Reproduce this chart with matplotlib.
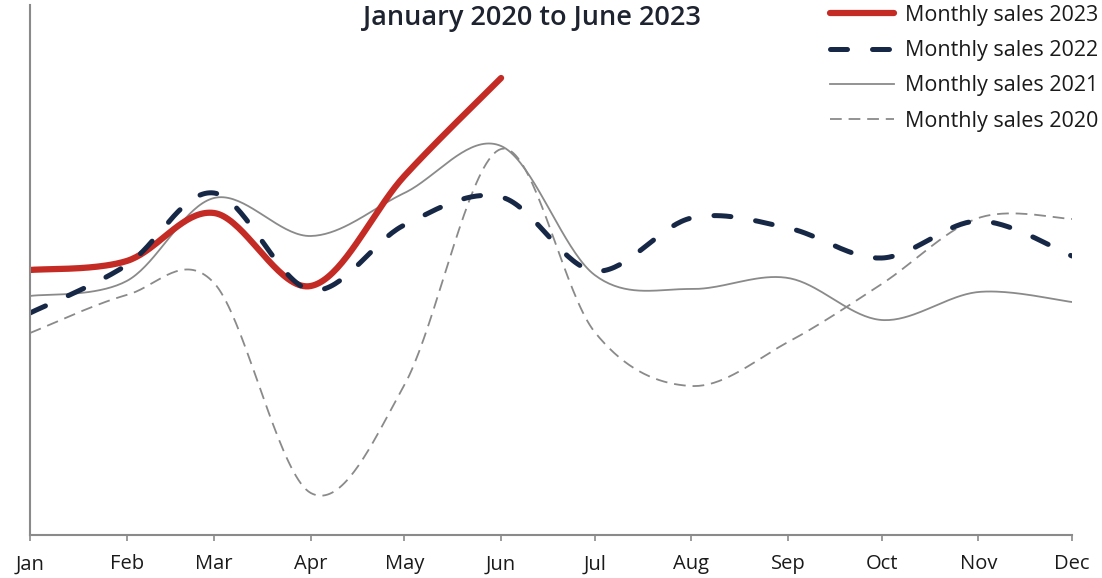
import numpy as np
import pandas as pd
import matplotlib
matplotlib.use("Agg")
import matplotlib.pyplot as plt
import matplotlib.dates as mdates

plt.rcParams['font.family'] = ['Open Sans', 'DejaVu Sans']

months = pd.date_range('2023-01-01', periods=12, freq='MS')
month_labels = ['Jan', 'Feb', 'Mar', 'Apr', 'May', 'Jun',
                'Jul', 'Aug', 'Sep', 'Oct', 'Nov', 'Dec']

# monthly sales index (no scale shown on the chart)
sales_2023 = [265, 274, 322, 249, 359, 457]
sales_2022 = [222, 270, 342, 245, 310, 338, 264, 317, 307, 277, 314, 279]
sales_2021 = [239, 254, 337, 299, 342, 389, 260, 246, 257, 215, 243, 233]
sales_2020 = [202, 240, 252, 42, 150, 386, 203, 149, 193, 251, 317, 316]


def smooth(xs, ys, n=40):
    # excel-like smoothed line: catmull-rom bezier through the points
    x = mdates.date2num(xs)
    y = np.asarray(ys, dtype=float)
    P = np.column_stack([x, y])
    P = np.vstack([P[0], P, P[-1]])
    out = []
    t = np.linspace(0, 1, n)[:, None]
    for i in range(1, len(P) - 2):
        p0, p1, p2, p3 = P[i - 1], P[i], P[i + 1], P[i + 2]
        c1 = p1 + (p2 - p0) / 6
        c2 = p2 - (p3 - p1) / 6
        seg = ((1 - t) ** 3) * p1 + 3 * ((1 - t) ** 2) * t * c1 \
            + 3 * (1 - t) * t ** 2 * c2 + t ** 3 * p2
        out.append(seg if i == 1 else seg[1:])
    out = np.vstack(out)
    return mdates.num2date(out[:, 0]), out[:, 1]


fig = plt.figure(figsize=(11.02, 5.78), dpi=100)
ax = fig.add_axes([30 / 1102, 43 / 578, 1042 / 1102, 530 / 578])

gray = '#8a8a8a'
red = '#c42b24'
navy = '#172847'

x, y = smooth(months, sales_2020)
l20, = ax.plot(x, y, color=gray, lw=1.3, dashes=(6.5, 3.8), label='Monthly sales 2020')
x, y = smooth(months, sales_2021)
l21, = ax.plot(x, y, color=gray, lw=1.3, label='Monthly sales 2021')
x, y = smooth(months[:6], sales_2023)
l23, = ax.plot(x, y, color=red, lw=4.5, solid_capstyle='round', label='Monthly sales 2023')
x, y = smooth(months, sales_2022)
l22, = ax.plot(x, y, color=navy, lw=3.6, dashes=(3.4, 5), dash_capstyle='round',
               label='Monthly sales 2022')

ax.set_xlim(months[0], months[-1])
ax.set_ylim(0, 530)
ax.set_xticks(months)
ax.set_xticklabels(month_labels)
ax.tick_params(axis='x', length=4, width=1.2, color=gray, labelsize=14.5,
               labelcolor='#1a1a1a', pad=10)
ax.set_yticks([])
for s in ['top', 'right']:
    ax.spines[s].set_visible(False)
for s in ['left', 'bottom']:
    ax.spines[s].set_color(gray)
    ax.spines[s].set_linewidth(1.5)

fig.text(532 / 1102, 1 - 18 / 578, 'January 2020 to June 2023', ha='center', va='center',
         fontsize=19.5, fontweight='semibold', color='#1e2330')

fig.legend(handles=[l23, l22, l21, l20], loc='upper right',
           bbox_to_anchor=(1 - 4 / 1102, 1 - 5 / 578),
           frameon=False, fontsize=15.5, handlelength=2.95, handletextpad=0.5,
           labelspacing=0.66, borderaxespad=0.0, borderpad=0.0, labelcolor='#1a1a1a')

fig.savefig('out.png', dpi=100)
